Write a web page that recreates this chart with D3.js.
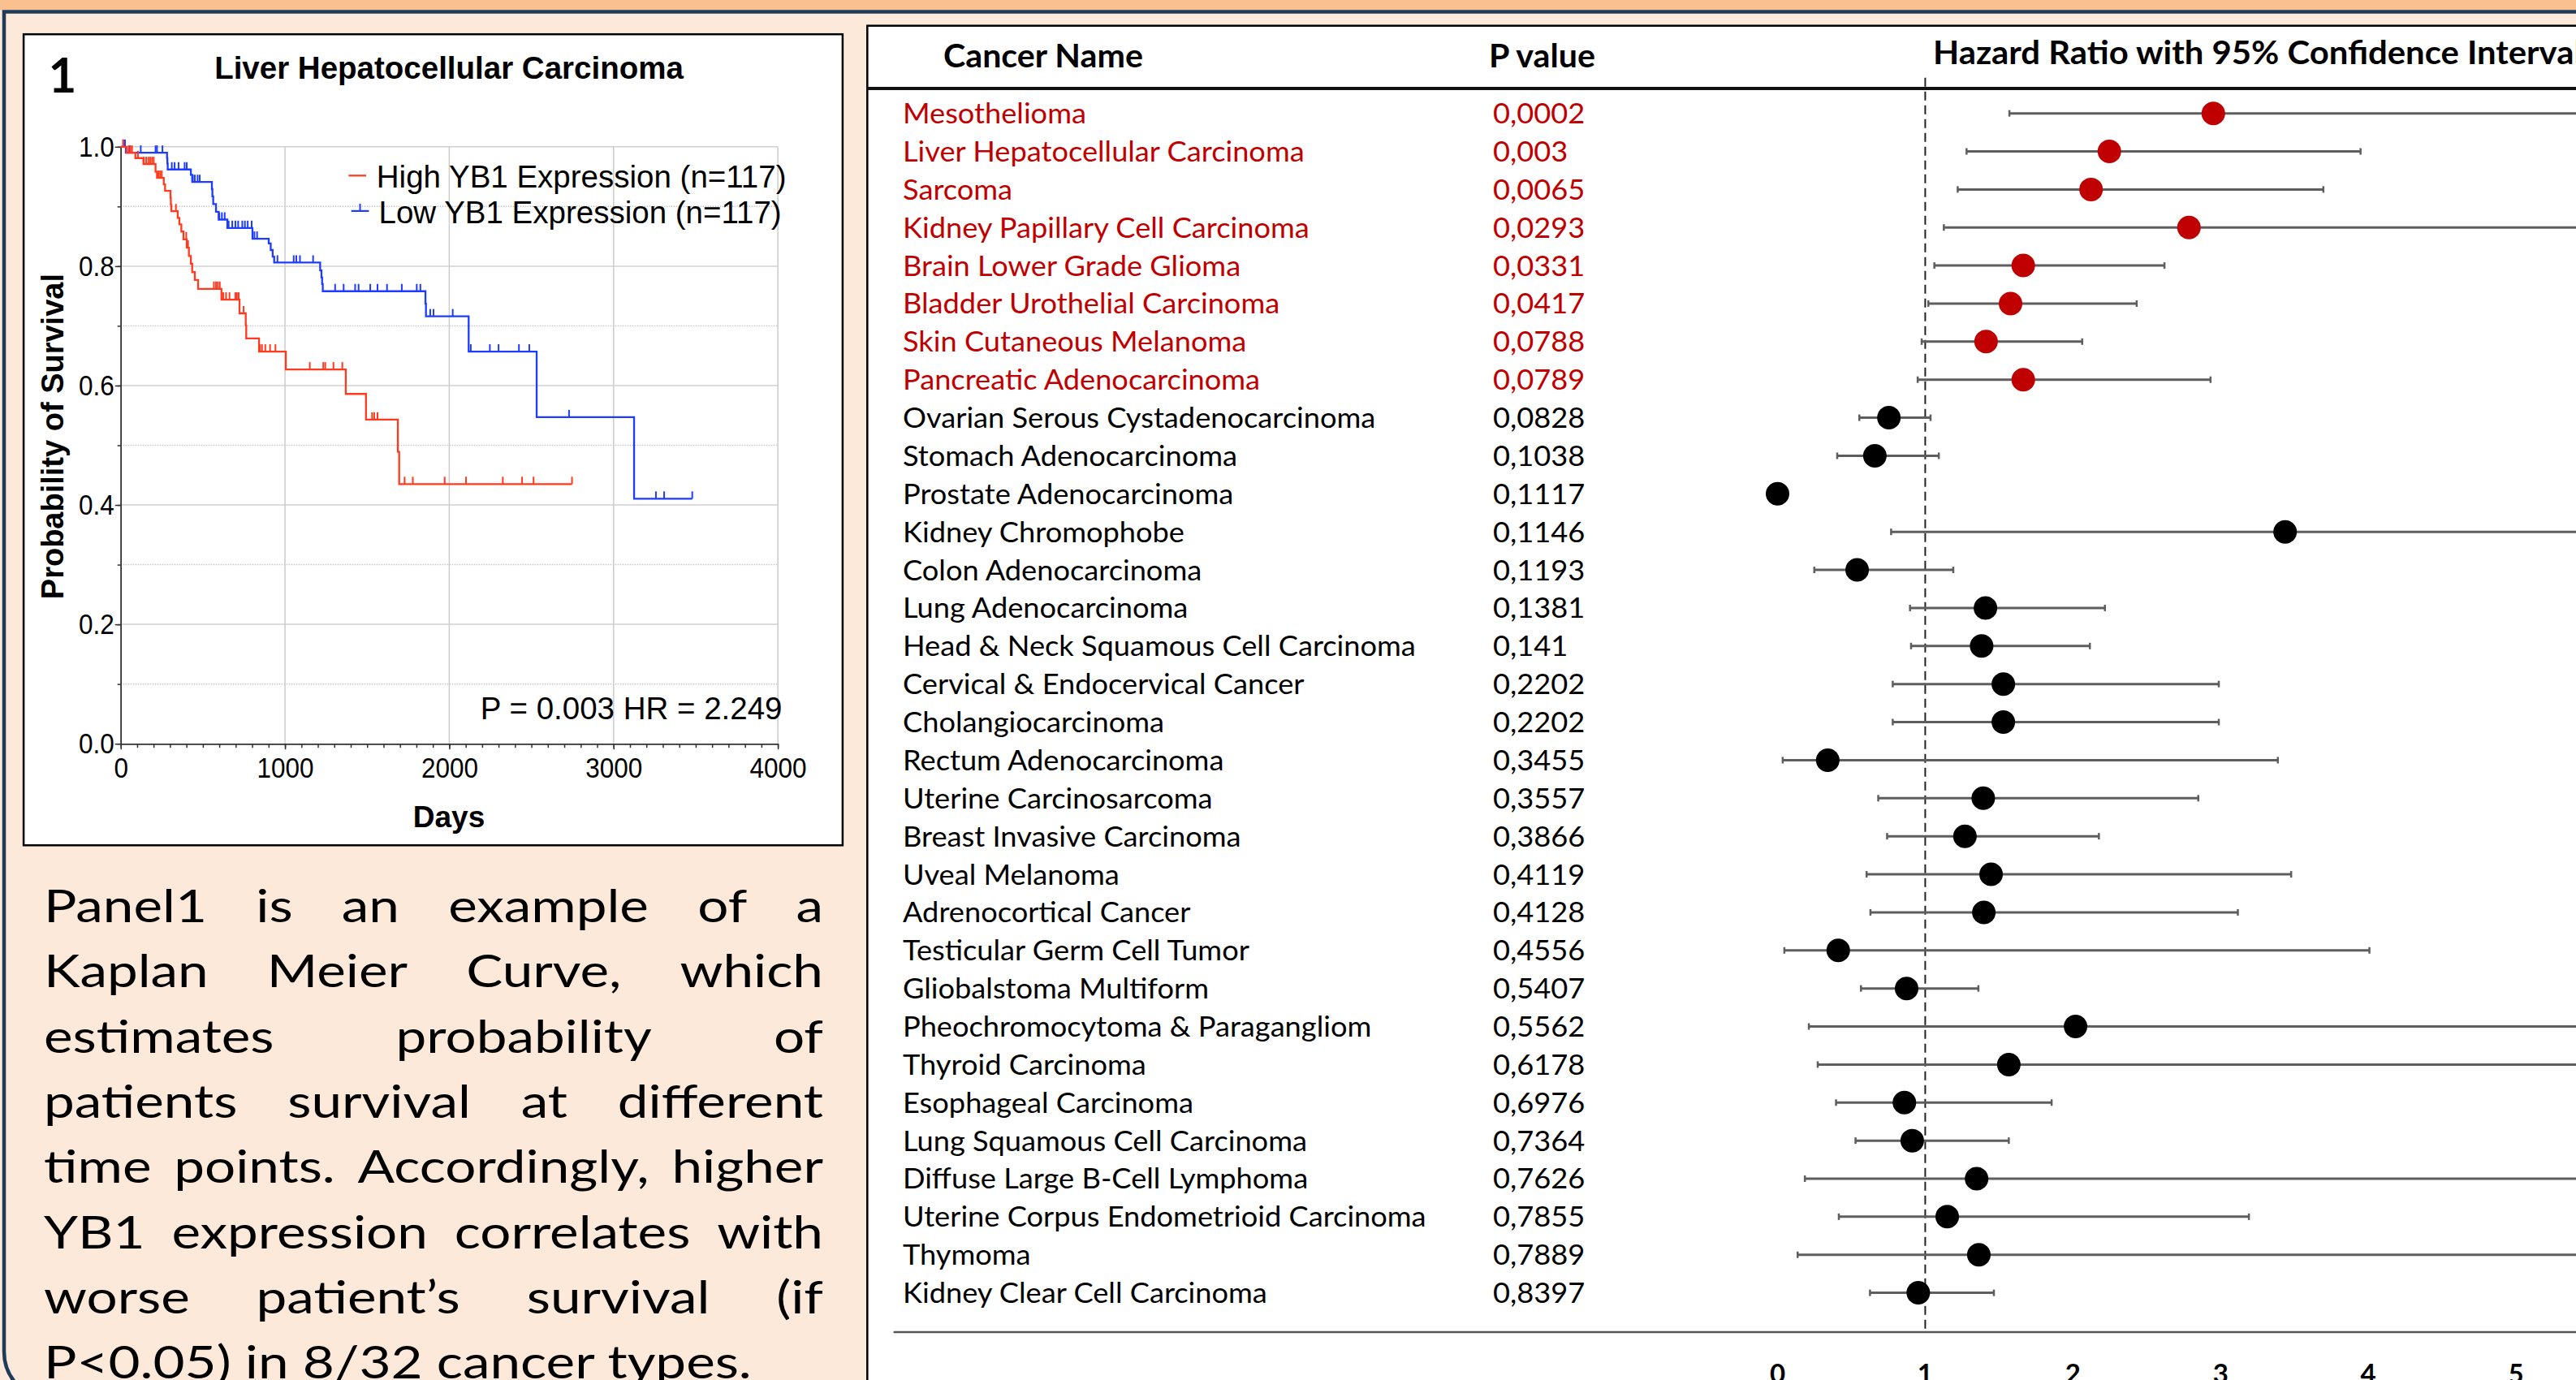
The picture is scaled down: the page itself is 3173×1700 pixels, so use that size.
<!DOCTYPE html>
<html><head><meta charset="utf-8">
<script src="https://cdn.jsdelivr.net/npm/d3@7"></script>
<style>html,body{margin:0;padding:0;background:#fde9d9;overflow:hidden}</style>
</head><body>
<svg id="c" width="3173" height="1700"></svg>
<script>
// ---------------- DATA ----------------
const cancers = ["Mesothelioma","Liver Hepatocellular Carcinoma","Sarcoma","Kidney Papillary Cell Carcinoma","Brain Lower Grade Glioma","Bladder Urothelial Carcinoma","Skin Cutaneous Melanoma","Pancreatic Adenocarcinoma","Ovarian Serous Cystadenocarcinoma","Stomach Adenocarcinoma","Prostate Adenocarcinoma","Kidney Chromophobe","Colon Adenocarcinoma","Lung Adenocarcinoma","Head & Neck Squamous Cell Carcinoma","Cervical & Endocervical Cancer","Cholangiocarcinoma","Rectum Adenocarcinoma","Uterine Carcinosarcoma","Breast Invasive Carcinoma","Uveal Melanoma","Adrenocortical Cancer","Testicular Germ Cell Tumor","Gliobalstoma Multiform","Pheochromocytoma & Paragangliom","Thyroid Carcinoma","Esophageal Carcinoma","Lung Squamous Cell Carcinoma","Diffuse Large B-Cell Lymphoma","Uterine Corpus Endometrioid Carcinoma","Thymoma","Kidney Clear Cell Carcinoma"];
const pValues = ["0,0002","0,003","0,0065","0,0293","0,0331","0,0417","0,0788","0,0789","0,0828","0,1038","0,1117","0,1146","0,1193","0,1381","0,141","0,2202","0,2202","0,3455","0,3557","0,3866","0,4119","0,4128","0,4556","0,5407","0,5562","0,6178","0,6976","0,7364","0,7626","0,7855","0,7889","0,8397"];
const hazardRatios = [2.951,2.247,2.123,2.786,1.664,1.578,1.412,1.664,0.754,0.659,0.0,3.437,0.539,1.408,1.382,1.529,1.529,0.340,1.393,1.269,1.446,1.397,0.411,0.874,2.018,1.566,0.859,0.912,1.348,1.149,1.363,0.953];
const ciLower = [1.570,1.280,1.220,1.126,1.062,1.021,0.976,0.949,0.554,0.404,null,0.769,0.249,0.897,0.904,0.780,0.780,0.035,0.682,0.742,0.603,0.629,0.046,0.565,0.212,0.272,0.396,0.528,0.185,0.415,0.136,0.626];
const ciUpper = [5.9,3.948,3.696,6.9,2.620,2.432,2.063,2.932,1.036,1.092,null,15.4,1.190,2.217,2.115,2.988,2.988,3.388,2.849,2.176,3.478,3.117,4.008,1.360,9.0,6.3,1.856,1.566,7.2,3.192,13.6,1.465];
const significantCount = 8;
const hrTicks = [0,1,2,3,4,5];
const tableHeaders = ["Cancer Name","P value","Hazard Ratio with 95% Confidence Interval"];

const kmTitle = "Liver Hepatocellular Carcinoma";
const kmDayTicks = [0,1000,2000,3000,4000];
const kmSurvTicks = [0,0.2,0.4,0.6,0.8,1.0];
const kmSeriesNames = ["High YB1 Expression (n=117)","Low YB1 Expression (n=117)"];
// [day, survival after event]
const highEvents = [[36,0.990],[89,0.981],[138,0.971],[212,0.958],[221,0.948],[262,0.937],[270,0.926],[303,0.915],[305,0.903],[308,0.892],[347,0.881],[357,0.870],[369,0.858],[382,0.845],[402,0.831],[415,0.817],[427,0.804],[435,0.790],[451,0.777],[471,0.762],[613,0.744],[723,0.721],[761,0.701],[764,0.679],[842,0.657],[1005,0.627],[1370,0.586],[1493,0.543],[1687,0.489],[1695,0.435]];
const highCensored = [15,48,59,69,105,141,155,168,179,191,201,229,240,250,336,347,399,410,567,580,591,603,624,641,662,698,707,718,748,847,860,880,909,942,1151,1233,1245,1295,1349,1530,1543,1563,1728,1778,1972,2102,2326,2443,2513,2747];
const lowEvents = [[31,0.990],[282,0.981],[284,0.972],[286,0.962],[427,0.953],[435,0.941],[555,0.929],[558,0.917],[563,0.904],[580,0.891],[596,0.878],[649,0.864],[802,0.846],[901,0.838],[913,0.827],[925,0.816],[934,0.806],[1214,0.793],[1222,0.781],[1226,0.770],[1230,0.758],[1855,0.737],[1858,0.716],[2118,0.657],[2532,0.547],[3125,0.4105]];
const lowCensored = [15,26,56,122,212,221,254,311,328,352,389,402,439,451,468,481,600,616,633,657,679,698,715,740,756,773,797,814,830,954,1053,1069,1091,1171,1305,1357,1427,1448,1519,1563,1621,1711,1802,1824,1884,1904,2021,2131,2247,2300,2424,2487,2729,3258,3308,3479];
const kmStats = "P = 0.003 HR = 2.249";
const paragraphLines = ["Panel1 is an example of a","Kaplan Meier Curve, which","estimates probability of","patients survival at different","time points. Accordingly, higher","YB1 expression correlates with","worse patient\u2019s survival (if","P<0.05) in 8/32 cancer types."];

// ---------------- DRAW ----------------
const svg = d3.select("#c");
const W = 3173, H = 1700;

function measure(txt, fam, weight, size){
  const t = svg.append("text").attr("font-family",fam).attr("font-weight",weight).attr("font-size",size).text(txt);
  const w = t.node().getComputedTextLength(); t.remove(); return w;
}

// background
svg.append("rect").attr("width",W).attr("height",H).attr("fill","#fde9d9");
svg.append("rect").attr("width",W).attr("height",12.5).attr("fill","#fac090");
svg.append("path").attr("d","M3180,14.5 H5 V1665 A60,60 0 0 0 65,1725")
  .attr("fill","none").attr("stroke","#203a5a").attr("stroke-width",4.5);

// ---------- KM panel ----------
svg.append("rect").attr("x",29.1).attr("y",42.2).attr("width",1008.8).attr("height",999.1)
  .attr("fill","#fff").attr("stroke","#000").attr("stroke-width",2.5);

const kx = d3.scaleLinear().domain([0,4000]).range([148.7,958.1]);
const ky = d3.scaleLinear().domain([0,1]).range([916.2,180.8]);
const km = svg.append("g");
const FA = "'Liberation Sans', Arial, sans-serif";
const TSX = 0.9; // narrow tick label glyphs

// grid
const minorY = d3.range(1,10,2).map(d=>d/10);
km.selectAll(".gmin").data(minorY).join("line")
  .attr("x1",kx(0)).attr("x2",kx(4000)).attr("y1",d=>ky(d)).attr("y2",d=>ky(d))
  .attr("stroke","#c8c8c8").attr("stroke-width",1.5).attr("stroke-dasharray","1.5,1.5");
km.selectAll(".gmaj").data(kmSurvTicks.slice(1)).join("line")
  .attr("x1",kx(0)).attr("x2",kx(4000)).attr("y1",d=>ky(d)).attr("y2",d=>ky(d))
  .attr("stroke","#d0d0d0").attr("stroke-width",1.5);
km.selectAll(".gv").data(kmDayTicks.slice(1)).join("line")
  .attr("x1",d=>kx(d)).attr("x2",d=>kx(d)).attr("y1",ky(0)).attr("y2",ky(1))
  .attr("stroke","#cccccc").attr("stroke-width",1.5);

// axes
function styleAxis(g){ g.selectAll("path,line").attr("stroke","#333").attr("stroke-width",1.5);
  g.selectAll("text").attr("font-family",FA).attr("font-size",35).attr("fill","#000"); }
km.append("g").attr("transform",`translate(${kx(0)},0)`)
  .call(d3.axisLeft(ky).tickValues(d3.range(0,11).map(d=>d/10)).tickSize(4).tickFormat("").tickSizeOuter(0)).call(styleAxis);
const yAx = km.append("g").attr("transform",`translate(${kx(0)},0)`)
  .call(d3.axisLeft(ky).tickValues(kmSurvTicks).tickSize(7).tickPadding(1).tickFormat(d3.format(".1f")).tickSizeOuter(0)).call(styleAxis);
yAx.selectAll("text").attr("x",-8/TSX).attr("transform",`scale(${TSX},1)`);
km.append("g").attr("transform",`translate(0,${ky(0)})`)
  .call(d3.axisBottom(kx).tickValues(d3.range(0,4001,100)).tickSize(5).tickFormat("").tickSizeOuter(0)).call(styleAxis);
const xAx = km.append("g").attr("transform",`translate(0,${ky(0)})`)
  .call(d3.axisBottom(kx).tickValues(kmDayTicks).tickSize(7).tickPadding(10).tickFormat(d3.format("d")).tickSizeOuter(0)).call(styleAxis);
xAx.selectAll("text").attr("transform",`scale(${TSX},1)`);

// curves
function survAt(events,t){ let s=1; for(const e of events){ if(e[0]<=t) s=e[1]; } return s; }
const stepLine = d3.line().x(d=>kx(d[0])).y(d=>ky(d[1])).curve(d3.curveStepAfter);
function drawKM(events, cens, color){
  const end = d3.max(cens);
  const pts = [[0,1],...events,[end,events[events.length-1][1]]];
  km.append("path").attr("d",stepLine(pts)).attr("fill","none").attr("stroke",color).attr("stroke-width",2.3);
  km.selectAll(null).data(cens).join("line")
    .attr("x1",d=>kx(d)).attr("x2",d=>kx(d)).attr("y1",d=>ky(survAt(events,d))).attr("y2",d=>ky(survAt(events,d))-9)
    .attr("stroke",color).attr("stroke-width",2);
}
const kmColors = ["#ff3a1e","#1e3cff"];
drawKM(lowEvents, lowCensored, kmColors[1]);
drawKM(highEvents, highCensored, kmColors[0]);

// legend
const lg = km.append("g");
lg.append("line").attr("x1",429.3).attr("x2",451).attr("y1",216.3).attr("y2",216.3).attr("stroke",kmColors[0]).attr("stroke-width",2.2);
lg.append("line").attr("x1",432.7).attr("x2",454.4).attr("y1",259.9).attr("y2",259.9).attr("stroke",kmColors[1]).attr("stroke-width",2.2);
lg.append("line").attr("x1",443.5).attr("x2",443.5).attr("y1",259.9).attr("y2",250.9).attr("stroke",kmColors[1]).attr("stroke-width",2);
lg.append("text").attr("x",463.8).attr("y",231).text(kmSeriesNames[0]).attr("font-family",FA).attr("font-size",38.5);
lg.append("text").attr("x",466.5).attr("y",274.6).text(kmSeriesNames[1]).attr("font-family",FA).attr("font-size",38.5);

km.append("text").attr("x",963.5).attr("y",885.5).attr("text-anchor","end").text(kmStats).attr("font-family",FA).attr("font-size",38.5);
km.append("text").attr("x",553).attr("y",97).attr("text-anchor","middle").text(kmTitle).attr("font-family",FA).attr("font-weight","bold").attr("font-size",38.5);
km.append("text").attr("x",553).attr("y",1019).attr("text-anchor","middle").text("Days").attr("font-family",FA).attr("font-weight","bold").attr("font-size",37);
km.append("text").attr("transform","translate(78,537.6) rotate(-90)").attr("text-anchor","middle").text("Probability of Survival").attr("font-family",FA).attr("font-weight","bold").attr("font-size",38);
km.append("text").attr("x",77).attr("y",114).attr("text-anchor","middle").text("1").attr("font-family","Lato").attr("font-weight","bold").attr("font-size",60);

// paragraph (justified)
const PF = 57;
const lastW = measure(paragraphLines[paragraphLines.length-1],"Lato",400,PF);
const sxP = 872/lastW;
const para = svg.append("g").attr("font-family","Lato").attr("font-size",PF).attr("fill","#000");
paragraphLines.forEach((line,i)=>{
  const yb = 1136 + i*80.3;
  const words = line.split(" ");
  if(i===paragraphLines.length-1){
    para.append("text").attr("transform",`translate(54,${yb}) scale(${sxP},1)`).text(line);
    return;
  }
  const ws = words.map(w=>measure(w,"Lato",400,PF)*sxP);
  const gap = (960 - d3.sum(ws))/(words.length-1);
  let x = 54;
  words.forEach((w,j)=>{
    para.append("text").attr("transform",`translate(${x},${yb}) scale(${sxP},1)`).text(w);
    x += ws[j] + gap;
  });
});

// ---------- Forest panel ----------
svg.append("rect").attr("x",1068.3).attr("y",31.7).attr("width",2300).attr("height",1900)
  .attr("fill","#fff").attr("stroke","#000").attr("stroke-width",2.5);
svg.append("line").attr("x1",1068).attr("x2",W).attr("y1",109).attr("y2",109).attr("stroke","#111").attr("stroke-width",4);

const xHR = d3.scaleLinear().domain([0,5]).range([2189.5,3099]);
const yRow = d3.scaleBand().domain(cancers).range([116.2,116.2+32*46.87]);
const cy = d => yRow(d)+yRow.bandwidth()/2;

const RF = 34.5, HF = 39.5;
const sxR = 226/measure("Mesothelioma","Lato",400,RF);
const sxH = 246/measure("Cancer Name","Lato",700,HF);
const sxHz = 800/measure(tableHeaders[2],"Lato",700,HF);

const fp = svg.append("g");
// headers
[[tableHeaders[0],1162,83.4,sxH],[tableHeaders[1],1834,83.4,sxH],[tableHeaders[2],2381,79.2,sxHz]].forEach(h=>{
  fp.append("text").attr("transform",`translate(${h[1]},${h[2]}) scale(${h[3]},1)`)
    .attr("font-family","Lato").attr("font-weight","bold").attr("font-size",HF).text(h[0]);
});
// rows
cancers.forEach((c,i)=>{
  const col = i<significantCount ? "#c00000" : "#000";
  fp.append("text").attr("transform",`translate(1112,${cy(c)+12.5}) scale(${sxR},1)`)
    .attr("font-family","Lato").attr("font-size",RF).attr("fill",col).text(c);
  fp.append("text").attr("transform",`translate(1839,${cy(c)+12.5}) scale(${sxR},1)`)
    .attr("font-family","Lato").attr("font-size",RF).attr("fill",col).text(pValues[i]);
});

// reference dashed line
fp.append("line").attr("x1",xHR(1)).attr("x2",xHR(1)).attr("y1",95.7).attr("y2",1641)
  .attr("stroke","#222").attr("stroke-width",2).attr("stroke-dasharray","11,6");
// bottom line
fp.append("line").attr("x1",1100.6).attr("x2",W).attr("y1",1641).attr("y2",1641).attr("stroke","#555").attr("stroke-width",2.5);

// CIs
cancers.forEach((c,i)=>{
  if(ciLower[i]==null) return;
  const y = cy(c);
  fp.append("line").attr("x1",xHR(ciLower[i])).attr("x2",xHR(ciUpper[i])).attr("y1",y).attr("y2",y)
    .attr("stroke","#5e5e5e").attr("stroke-width",3);
  [ciLower[i],ciUpper[i]].forEach(v=>{
    fp.append("line").attr("x1",xHR(v)).attr("x2",xHR(v)).attr("y1",y-4).attr("y2",y+4)
      .attr("stroke","#5e5e5e").attr("stroke-width",2.5);
  });
});
fp.selectAll("circle").data(cancers).join("circle")
  .attr("cx",(d,i)=>xHR(hazardRatios[i])).attr("cy",d=>cy(d)).attr("r",14.5)
  .attr("fill",(d,i)=> i<significantCount ? "#c00000" : "#000");

// HR axis labels
fp.selectAll(".hrt").data(hrTicks).join("text")
  .attr("x",d=>xHR(d)).attr("y",1704).attr("text-anchor","middle")
  .attr("font-family","Lato").attr("font-weight","bold").attr("font-size",33).text(d=>d);
</script>
</body></html>
